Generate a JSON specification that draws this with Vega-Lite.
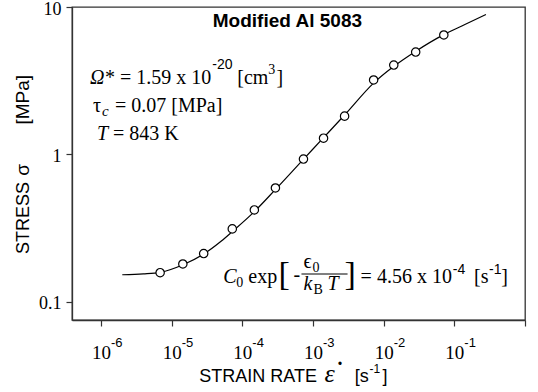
{
  "$schema": "https://vega.github.io/schema/vega-lite/v6.json",
  "width": 453,
  "height": 313,
  "autosize": {"type": "none"},
  "padding": {"left": 72, "top": 7, "right": 13, "bottom": 72},
  "background": "white",
  "config": {
    "view": {"stroke": "#333333", "strokeWidth": 1.3},
    "text": {"font": "Liberation Serif", "fontSize": 20, "color": "black", "align": "left", "baseline": "alphabetic"}
  },
  "datasets": {
    "curve": [
      {"rate": 2.0e-6, "stress": 0.153},
      {"rate": 3.98e-6, "stress": 0.155},
      {"rate": 6.9e-6, "stress": 0.159},
      {"rate": 1.45e-5, "stress": 0.179},
      {"rate": 2.82e-5, "stress": 0.211},
      {"rate": 5.0e-5, "stress": 0.258},
      {"rate": 7.2e-5, "stress": 0.300},
      {"rate": 1.48e-4, "stress": 0.41},
      {"rate": 2.95e-4, "stress": 0.58},
      {"rate": 7.2e-4, "stress": 0.92},
      {"rate": 1.41e-3, "stress": 1.30},
      {"rate": 2.82e-3, "stress": 1.86},
      {"rate": 7.2e-3, "stress": 3.05},
      {"rate": 1.38e-2, "stress": 3.95},
      {"rate": 2.82e-2, "stress": 5.0},
      {"rate": 7.1e-2, "stress": 6.5},
      {"rate": 0.141, "stress": 7.6},
      {"rate": 0.28, "stress": 8.9}
    ],
    "points": [
      {"rate": 6.87e-6, "stress": 0.158},
      {"rate": 1.44e-5, "stress": 0.181},
      {"rate": 2.84e-5, "stress": 0.213},
      {"rate": 7.21e-5, "stress": 0.313},
      {"rate": 1.48e-4, "stress": 0.421},
      {"rate": 2.94e-4, "stress": 0.593},
      {"rate": 7.33e-4, "stress": 0.931},
      {"rate": 1.41e-3, "stress": 1.29},
      {"rate": 2.80e-3, "stress": 1.82},
      {"rate": 7.21e-3, "stress": 3.20},
      {"rate": 1.39e-2, "stress": 4.04},
      {"rate": 2.84e-2, "stress": 4.95},
      {"rate": 7.10e-2, "stress": 6.46}
    ],
    "exps": [
      {"rate": 1e-6, "exp": "-6"},
      {"rate": 1e-5, "exp": "-5"},
      {"rate": 1e-4, "exp": "-4"},
      {"rate": 1e-3, "exp": "-3"},
      {"rate": 1e-2, "exp": "-2"},
      {"rate": 1e-1, "exp": "-1"}
    ],
    "one": [{}]
  },
  "layer": [
    {
      "data": {"name": "curve"},
      "mark": {"type": "line", "color": "black", "strokeWidth": 1.2, "interpolate": "monotone"},
      "encoding": {
        "x": {
          "field": "rate", "type": "quantitative",
          "scale": {"type": "log", "domain": [3.89e-7, 1], "nice": false},
          "title": null,
          "axis": {
            "values": [1e-6, 1e-5, 1e-4, 1e-3, 1e-2, 1e-1, 1],
            "labelExpr": "datum.value < 0.5 ? '10' : ''",
            "labelFont": "Liberation Serif", "labelFontSize": 19, "labelColor": "black",
            "labelBaseline": "alphabetic", "labelPadding": 32, "labelFlush": false, "labelOverlap": false,
            "tickSize": 6, "tickColor": "#333333", "domainColor": "#333333", "domainWidth": 1.3, "tickWidth": 1.2,
            "grid": false
          }
        },
        "y": {
          "field": "stress", "type": "quantitative",
          "scale": {"type": "log", "domain": [0.0755, 10], "nice": false},
          "title": null,
          "axis": {
            "values": [0.1, 1, 10],
            "labelExpr": "datum.value >= 5 ? '10' : datum.value >= 0.5 ? '1' : '0.1'",
            "labelFont": "Liberation Serif", "labelFontSize": 18, "labelColor": "black", "labelPadding": 5,
            "labelBaseline": "alphabetic", "labelOffset": 7, "labelFlush": false,
            "tickSize": 6, "tickColor": "#333333", "domainColor": "#333333", "domainWidth": 1.3, "tickWidth": 1.2,
            "grid": false
          }
        }
      }
    },
    {
      "data": {"name": "points"},
      "mark": {"type": "point", "shape": "circle", "size": 70, "filled": false, "fill": "white", "fillOpacity": 1, "stroke": "black", "strokeWidth": 1.2, "opacity": 1},
      "encoding": {
        "x": {"field": "rate", "type": "quantitative"},
        "y": {"field": "stress", "type": "quantitative"}
      }
    },
    {
      "data": {"name": "exps"},
      "mark": {"type": "text", "font": "Liberation Sans", "fontSize": 13, "dx": 10},
      "encoding": {
        "x": {"field": "rate", "type": "quantitative"},
        "y": {"datum": 0.04953, "type": "quantitative"},
        "text": {"field": "exp"}
      }
    },
    {"data": {"name": "one"}, "mark": {"type": "text", "font": "Liberation Sans", "fontSize": 18, "angle": 270, "align": "center"},
     "encoding": {"x": {"datum": 9.52e-8, "type": "quantitative"}, "y": {"datum": 0.3711, "type": "quantitative"}, "text": {"value": "STRESS"}}},
    {"data": {"name": "one"}, "mark": {"type": "text", "font": "Liberation Sans", "fontSize": 19, "angle": 270, "align": "center"},
     "encoding": {"x": {"datum": 9.52e-8, "type": "quantitative"}, "y": {"datum": 0.785, "type": "quantitative"}, "text": {"value": "σ"}}},
    {"data": {"name": "one"}, "mark": {"type": "text", "font": "Liberation Sans", "fontSize": 19, "angle": 270, "align": "center"},
     "encoding": {"x": {"datum": 9.52e-8, "type": "quantitative"}, "y": {"datum": 2.35, "type": "quantitative"}, "text": {"value": "[MPa]"}}},

    {"data": {"name": "one"}, "mark": {"type": "text", "font": "Liberation Sans", "fontSize": 18},
     "encoding": {"x": {"datum": 2.455e-5, "type": "quantitative"}, "y": {"datum": 0.02868, "type": "quantitative"}, "text": {"value": "STRAIN RATE"}}},
    {"data": {"name": "one"}, "mark": {"type": "text", "fontSize": 26, "fontStyle": "italic"},
     "encoding": {"x": {"datum": 1.455e-3, "type": "quantitative"}, "y": {"datum": 0.02868, "type": "quantitative"}, "text": {"value": "ε"}}},
    {"data": {"name": "one"}, "mark": {"type": "text", "fontSize": 20, "fontWeight": "bold"},
     "encoding": {"x": {"datum": 2.226e-3, "type": "quantitative"}, "y": {"datum": 0.0374, "type": "quantitative"}, "text": {"value": "."}}},
    {"data": {"name": "one"}, "mark": {"type": "text", "font": "Liberation Sans", "fontSize": 18},
     "encoding": {"x": {"datum": 3.9e-3, "type": "quantitative"}, "y": {"datum": 0.02868, "type": "quantitative"}, "text": {"value": "[s"}}},
    {"data": {"name": "one"}, "mark": {"type": "text", "font": "Liberation Sans", "fontSize": 12},
     "encoding": {"x": {"datum": 6.3e-3, "type": "quantitative"}, "y": {"datum": 0.0330, "type": "quantitative"}, "text": {"value": "-1"}}},
    {"data": {"name": "one"}, "mark": {"type": "text", "font": "Liberation Sans", "fontSize": 18},
     "encoding": {"x": {"datum": 9.6e-3, "type": "quantitative"}, "y": {"datum": 0.02868, "type": "quantitative"}, "text": {"value": "]"}}},

    {"data": {"name": "one"}, "mark": {"type": "text", "font": "Liberation Sans", "fontWeight": "bold", "fontSize": 19, "align": "center"},
     "encoding": {"x": {"datum": 4.345e-4, "type": "quantitative"}, "y": {"datum": 7.317, "type": "quantitative"}, "text": {"value": "Modified Al 5083"}}},

    {"data": {"name": "one"}, "mark": {"type": "text", "fontStyle": "italic"},
     "encoding": {"x": {"datum": 6.98e-7, "type": "quantitative"}, "y": {"datum": 3.006, "type": "quantitative"}, "text": {"value": "Ω"}}},
    {"data": {"name": "one"}, "mark": {"type": "text"},
     "encoding": {"x": {"datum": 1.139e-6, "type": "quantitative"}, "y": {"datum": 3.006, "type": "quantitative"}, "text": {"value": "* = 1.59 x 10"}}},
    {"data": {"name": "one"}, "mark": {"type": "text", "font": "Liberation Sans", "fontSize": 14},
     "encoding": {"x": {"datum": 3.753e-5, "type": "quantitative"}, "y": {"datum": 3.80, "type": "quantitative"}, "text": {"value": "-20"}}},
    {"data": {"name": "one"}, "mark": {"type": "text"},
     "encoding": {"x": {"datum": 8.495e-5, "type": "quantitative"}, "y": {"datum": 3.006, "type": "quantitative"}, "text": {"value": "[cm"}}},
    {"data": {"name": "one"}, "mark": {"type": "text", "fontSize": 14},
     "encoding": {"x": {"datum": 2.337e-4, "type": "quantitative"}, "y": {"datum": 3.514, "type": "quantitative"}, "text": {"value": "3"}}},
    {"data": {"name": "one"}, "mark": {"type": "text"},
     "encoding": {"x": {"datum": 3.036e-4, "type": "quantitative"}, "y": {"datum": 3.006, "type": "quantitative"}, "text": {"value": "]"}}},

    {"data": {"name": "one"}, "mark": {"type": "text"},
     "encoding": {"x": {"datum": 7.70e-7, "type": "quantitative"}, "y": {"datum": 1.942, "type": "quantitative"}, "text": {"value": "τ"}}},
    {"data": {"name": "one"}, "mark": {"type": "text", "fontStyle": "italic", "fontSize": 15},
     "encoding": {"x": {"datum": 1.033e-6, "type": "quantitative"}, "y": {"datum": 1.82, "type": "quantitative"}, "text": {"value": "c"}}},
    {"data": {"name": "one"}, "mark": {"type": "text"},
     "encoding": {"x": {"datum": 1.580e-6, "type": "quantitative"}, "y": {"datum": 1.942, "type": "quantitative"}, "text": {"value": "= 0.07 [MPa]"}}},

    {"data": {"name": "one"}, "mark": {"type": "text", "fontStyle": "italic"},
     "encoding": {"x": {"datum": 8.776e-7, "type": "quantitative"}, "y": {"datum": 1.254, "type": "quantitative"}, "text": {"value": "T"}}},
    {"data": {"name": "one"}, "mark": {"type": "text"},
     "encoding": {"x": {"datum": 1.48e-6, "type": "quantitative"}, "y": {"datum": 1.254, "type": "quantitative"}, "text": {"value": "= 843 K"}}},

    {"data": {"name": "one"}, "mark": {"type": "text", "fontStyle": "italic"},
     "encoding": {"x": {"datum": 5.376e-5, "type": "quantitative"}, "y": {"datum": 0.1345, "type": "quantitative"}, "text": {"value": "C"}}},
    {"data": {"name": "one"}, "mark": {"type": "text", "fontSize": 14},
     "encoding": {"x": {"datum": 8.22e-5, "type": "quantitative"}, "y": {"datum": 0.1264, "type": "quantitative"}, "text": {"value": "0"}}},
    {"data": {"name": "one"}, "mark": {"type": "text"},
     "encoding": {"x": {"datum": 1.217e-4, "type": "quantitative"}, "y": {"datum": 0.1345, "type": "quantitative"}, "text": {"value": "exp"}}},
    {"data": {"name": "one"}, "mark": {"type": "text", "fontSize": 34},
     "encoding": {"x": {"datum": 3.24e-4, "type": "quantitative"}, "y": {"datum": 0.1304, "type": "quantitative"}, "text": {"value": "["}}},
    {"data": {"name": "one"}, "mark": {"type": "text"},
     "encoding": {"x": {"datum": 5.29e-4, "type": "quantitative"}, "y": {"datum": 0.1388, "type": "quantitative"}, "text": {"value": "-"}}},
    {"data": {"name": "one"}, "mark": {"type": "text"},
     "encoding": {"x": {"datum": 7.33e-4, "type": "quantitative"}, "y": {"datum": 0.1700, "type": "quantitative"}, "text": {"value": "ϵ"}}},
    {"data": {"name": "one"}, "mark": {"type": "text", "fontSize": 14},
     "encoding": {"x": {"datum": 9.84e-4, "type": "quantitative"}, "y": {"datum": 0.1598, "type": "quantitative"}, "text": {"value": "0"}}},
    {"data": {"name": "one"}, "mark": {"type": "rule", "color": "black", "strokeWidth": 1},
     "encoding": {"x": {"datum": 6.868e-4, "type": "quantitative"}, "x2": {"datum": 3.086e-3}, "y": {"datum": 0.1548, "type": "quantitative"}}},
    {"data": {"name": "one"}, "mark": {"type": "text", "fontStyle": "italic"},
     "encoding": {"x": {"datum": 7.33e-4, "type": "quantitative"}, "y": {"datum": 0.1206, "type": "quantitative"}, "text": {"value": "k"}}},
    {"data": {"name": "one"}, "mark": {"type": "text", "fontSize": 14},
     "encoding": {"x": {"datum": 1.0165e-3, "type": "quantitative"}, "y": {"datum": 0.1133, "type": "quantitative"}, "text": {"value": "B"}}},
    {"data": {"name": "one"}, "mark": {"type": "text", "fontStyle": "italic"},
     "encoding": {"x": {"datum": 1.606e-3, "type": "quantitative"}, "y": {"datum": 0.1206, "type": "quantitative"}, "text": {"value": "T"}}},
    {"data": {"name": "one"}, "mark": {"type": "text", "fontSize": 34},
     "encoding": {"x": {"datum": 2.797e-3, "type": "quantitative"}, "y": {"datum": 0.1304, "type": "quantitative"}, "text": {"value": "]"}}},
    {"data": {"name": "one"}, "mark": {"type": "text"},
     "encoding": {"x": {"datum": 4.718e-3, "type": "quantitative"}, "y": {"datum": 0.1345, "type": "quantitative"}, "text": {"value": "= 4.56 x 10"}}},
    {"data": {"name": "one"}, "mark": {"type": "text", "font": "Liberation Sans", "fontSize": 14},
     "encoding": {"x": {"datum": 9.52e-2, "type": "quantitative"}, "y": {"datum": 0.1548, "type": "quantitative"}, "text": {"value": "-4"}}},
    {"data": {"name": "one"}, "mark": {"type": "text"},
     "encoding": {"x": {"datum": 0.19, "type": "quantitative"}, "y": {"datum": 0.1345, "type": "quantitative"}, "text": {"value": "[s"}}},
    {"data": {"name": "one"}, "mark": {"type": "text", "font": "Liberation Sans", "fontSize": 14},
     "encoding": {"x": {"datum": 0.31, "type": "quantitative"}, "y": {"datum": 0.1548, "type": "quantitative"}, "text": {"value": "-1"}}},
    {"data": {"name": "one"}, "mark": {"type": "text"},
     "encoding": {"x": {"datum": 0.46, "type": "quantitative"}, "y": {"datum": 0.1345, "type": "quantitative"}, "text": {"value": "]"}}}
  ]
}
